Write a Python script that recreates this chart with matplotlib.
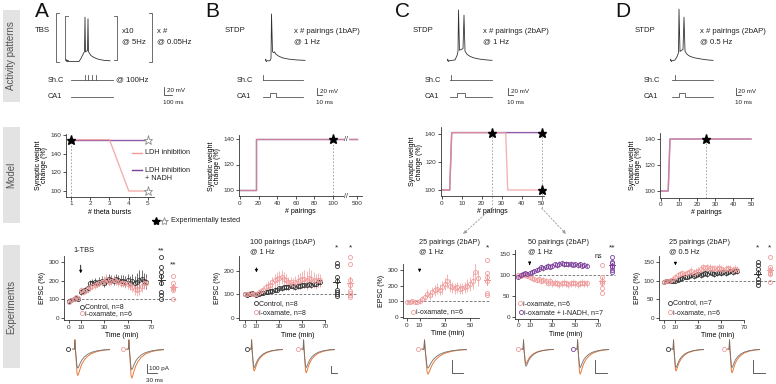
import numpy as np
import matplotlib
matplotlib.use("Agg")
import matplotlib.pyplot as plt
from matplotlib.patches import Rectangle

plt.rcParams['font.family'] = ['Liberation Sans', 'DejaVu Sans']
plt.rcParams['font.size'] = 5
plt.rcParams['axes.linewidth'] = 0.6
plt.rcParams['xtick.major.width'] = 0.6
plt.rcParams['ytick.major.width'] = 0.6
plt.rcParams['xtick.major.size'] = 2
plt.rcParams['ytick.major.size'] = 2
plt.rcParams['xtick.major.pad'] = 1.5
plt.rcParams['ytick.major.pad'] = 1.5
plt.rcParams['xtick.labelsize'] = 4.6
plt.rcParams['ytick.labelsize'] = 4.6
plt.rcParams['axes.labelsize'] = 5
plt.rcParams['axes.labelpad'] = 1.5
plt.rcParams['text.color'] = '#222222'
plt.rcParams['axes.edgecolor'] = '#333333'
plt.rcParams['xtick.color'] = '#333333'
plt.rcParams['ytick.color'] = '#333333'

W, H = 776, 384
PINK = '#f09a9a'
PURPLE = '#7b3f9a'
BLACK = '#333333'
ORANGE = '#e8793a'
TGRAY = '#707070'
DASH = '#9a9a9a'

# ---------------- model data ----------------
bursts = [1, 2, 3, 4, 5]
ldh_A = [155, 155, 155, 100, 100]
nadh_A = [155, 155, 155, 155, 155]

pair_B = [0, 17.5, 17.5, 500]
w_B = [100, 100, 140, 140]

pair_C = [0, 4, 5, 32, 33, 50]
ldh_C = [100, 100, 141, 141, 100, 100]
pair_C2 = [0, 4, 5, 50]
nadh_C = [100, 100, 141, 141]

pair_D = [0, 4, 5, 50]
w_D = [100, 100, 140, 140]

# ---------------- experiment data ----------------
tA = list(range(0, 68, 2))
ctl_A = [90, 95, 100, 105, 100, 140, 145, 150, 160, 185, 190, 195, 185, 195, 200, 190, 200,
         210, 205, 200, 210, 205, 200, 200, 195, 205, 190, 200, 185, 195, 205, 210, 200, 195]
err_ctl_A = [10, 10, 10, 10, 10, 15, 15, 15, 20, 20, 20, 20, 20, 25, 25, 25, 25,
             25, 25, 25, 25, 25, 30, 30, 30, 30, 35, 35, 40, 45, 50, 45, 40, 40]
oxa_A = [85, 95, 100, 110, 105, 150, 140, 145, 155, 165, 170, 175, 180, 190, 195, 200, 210,
         195, 200, 205, 200, 195, 190, 190, 185, 180, 175, 165, 155, 150, 155, 170, 185, 190]
err_oxa_A = [10, 10, 10, 10, 10, 15, 15, 15, 15, 20, 20, 20, 20, 20, 25, 25, 25,
             25, 25, 25, 25, 25, 25, 25, 25, 25, 25, 25, 30, 30, 30, 30, 30, 30]
pts_ctl_A = [326, 271, 245, 226, 190, 137, 121, 101]
pts_oxa_A = [225, 185, 165, 159, 150, 100]

tB = list(range(0, 68, 2))
ctl_B = [100, 95, 100, 105, 100, 95, 100, 105, 105, 110, 110, 115, 115, 120, 120, 125, 125,
         130, 130, 130, 135, 135, 130, 135, 135, 140, 140, 140, 145, 140, 145, 145, 150, 150]
err_ctl_B = [6, 6, 6, 6, 6, 6, 6, 8, 8, 8, 8, 8, 10, 10, 10, 10, 10,
             10, 10, 10, 10, 12, 12, 12, 12, 12, 12, 12, 15, 15, 15, 15, 15, 15]
oxa_B = [100, 100, 105, 100, 100, 100, 110, 115, 120, 130, 135, 140, 150, 160, 165, 170, 175,
         165, 160, 150, 150, 145, 150, 155, 160, 165, 165, 160, 170, 165, 160, 155, 160, 160]
err_oxa_B = [8, 8, 8, 8, 8, 8, 10, 12, 15, 18, 20, 22, 25, 28, 30, 30, 30,
             28, 25, 25, 25, 25, 28, 30, 32, 35, 38, 40, 40, 38, 35, 32, 30, 28]
pts_ctl_B = [232, 218, 175, 157, 120, 108, 100, 92]
pts_oxa_B = [260, 230, 160, 140, 112, 105, 97, 90]

tC1 = list(range(0, 58, 2))
oxa_C1 = [95, 95, 100, 95, 95, 100, 115, 130, 150, 140, 160, 170, 180, 175, 190,
          210, 230, 200, 190, 185, 190, 180, 185, 190, 200, 210, 230, 290, 250]
err_C1 = [15, 15, 15, 15, 15, 15, 20, 25, 30, 30, 30, 35, 35, 35, 40,
          40, 45, 40, 35, 35, 35, 35, 35, 35, 40, 45, 50, 60, 50]
pts_oxa_C1 = [364, 279, 257, 232, 151, 140]

tC2 = list(range(0, 62, 2))
oxa_C2 = [100, 98, 102, 100, 98, 95, 92, 90, 88, 90, 85, 88, 85, 82, 85, 80,
          82, 80, 78, 80, 82, 80, 78, 80, 82, 80, 78, 80, 82, 80, 80]
err_oxa_C2 = [5, 5, 5, 5, 5, 6, 6, 6, 6, 7, 7, 7, 8, 8, 8, 8,
              8, 8, 8, 8, 8, 8, 8, 8, 8, 8, 8, 8, 8, 8, 8]
nadh_C2 = [95, 100, 102, 105, 103, 105, 108, 110, 112, 115, 118, 116, 120, 122, 120, 122,
           125, 123, 126, 128, 125, 127, 125, 126, 124, 125, 123, 125, 122, 124, 122]
err_nadh_C2 = [4, 4, 4, 4, 4, 5, 5, 5, 5, 5, 6, 6, 6, 6, 6, 6,
               6, 6, 6, 6, 6, 6, 6, 6, 6, 6, 6, 6, 6, 6, 6]
pts_oxa_C2 = [124, 95, 85, 80, 70, 58]
pts_nadh_C2 = [143, 131, 128, 122, 118, 112, 108]

tD = list(range(0, 66, 2))
ctl_D = [95, 98, 100, 100, 98, 100, 102, 105, 108, 110, 110, 112, 115, 112, 115, 118, 115,
         118, 120, 118, 122, 120, 118, 120, 122, 120, 123, 120, 122, 125, 122, 125, 125]
err_ctl_D = [5, 5, 5, 5, 5, 5, 6, 6, 6, 7, 7, 7, 7, 7, 8, 8, 8,
             8, 8, 8, 8, 8, 8, 8, 8, 8, 8, 8, 8, 8, 8, 8, 8]
oxa_D = [95, 100, 100, 102, 105, 110, 115, 118, 120, 118, 120, 122, 125, 120, 122, 125, 130,
         135, 132, 135, 133, 130, 132, 130, 133, 130, 128, 130, 132, 130, 128, 130, 128]
err_oxa_D = [5, 5, 5, 5, 6, 7, 8, 8, 8, 8, 9, 9, 10, 10, 10, 10, 10,
             10, 10, 10, 10, 10, 10, 10, 10, 10, 10, 10, 10, 10, 10, 10, 10]
pts_ctl_D = [150, 140, 130, 120, 105, 97, 88]
pts_oxa_D = [163, 135, 128, 120, 118, 97]

# ---------------- waveform sketches ----------------
tbs_t = [0, 0.7, 1.4, 2, 13, 15, 17, 18.5, 19, 19.5, 20.5, 21.5, 22, 22.5, 23.5, 25, 28, 32, 38, 44]
tbs_v = [-70, -65, -70, -70, -70, -62, -52, -45, 40, -46, -44, -43, 36, -45, -50, -55, -60, -64, -67, -68]
bap1_t = [0, 0.7, 1.4, 2, 5, 6, 6.5, 7.5, 8.5, 9.5, 11, 14, 18, 24, 32, 40]
bap1_v = [-68, -64, -70, -68, -68, -62, 48, -45, -48, -46, -52, -57, -61, -64, -66, -67]
bap2_t = [0, 0.7, 1.4, 2, 8, 10, 11, 11.5, 12.5, 14, 16, 17, 18, 20, 23, 27, 33, 40, 45]
bap2_v = [-68, -64, -70, -68, -66, -55, -45, 58, -42, -40, -38, 45, -44, -52, -57, -61, -64, -66, -67]
bap2d_t = [0, 0.7, 1.4, 2, 5, 7, 8.5, 9, 10, 11.5, 13, 14, 15, 17, 20, 25, 32, 38, 43]
bap2d_v = [-68, -64, -70, -68, -66, -58, -48, 60, -45, -42, -40, 40, -44, -52, -57, -61, -64, -66, -67]
epsc_t = [0, 2.0, 2.6, 3.2, 4.2, 5.2, 6.2, 7.5, 9, 11, 14, 18, 23, 30, 38, 46]
epsc_shape = [0, 0, 0.35, 0, -0.45, -0.9, -1.0, -0.9, -0.75, -0.58, -0.42, -0.28, -0.17, -0.09, -0.04, -0.02]

fig = plt.figure(figsize=(W / 100, H / 100), dpi=100)
bg = fig.add_axes([0, 0, 1, 1], zorder=-1)
bg.set_xlim(0, W)
bg.set_ylim(H, 0)
bg.axis('off')


def place(xlim, ylim, xmap, ymap):
    dx0, px0, dx1, px1 = xmap
    dy0, py0, dy1, py1 = ymap
    sx = (px1 - px0) / (dx1 - dx0)
    sy = (py1 - py0) / (dy1 - dy0)
    left = px0 + (xlim[0] - dx0) * sx
    right = px0 + (xlim[1] - dx0) * sx
    bottom = py0 + (ylim[0] - dy0) * sy
    top = py0 + (ylim[1] - dy0) * sy
    ax = fig.add_axes([left / W, 1 - bottom / H, (right - left) / W, (bottom - top) / H])
    ax.set_xlim(*xlim)
    ax.set_ylim(*ylim)
    ax.patch.set_alpha(0)
    for s in ('top', 'right'):
        ax.spines[s].set_visible(False)
    return ax


def to_px(ax, x, y):
    dx, dy = ax.transData.transform((x, y))
    return dx, H - dy


def T(x, y, s, size=5, **kw):
    kw.setdefault('va', 'center')
    bg.text(x, y, s, fontsize=size, **kw)


def course(ax, t, y, e, color):
    ax.errorbar(t, y, yerr=e, fmt='o', ms=2.9, mfc='none', mec=color, mew=0.6,
                ecolor=color, elinewidth=0.5, capsize=0, zorder=3)


def column(ax, x, vals, color, half=3):
    vals = np.asarray(vals, float)
    ax.plot(np.full(len(vals), x), vals, 'o', ms=2.9, mfc='none', mec=color, mew=0.6,
            clip_on=False, zorder=3)
    m = vals.mean()
    se = vals.std(ddof=1) / np.sqrt(len(vals))
    ax.plot([x - half, x + half], [m, m], color=color, lw=0.7, clip_on=False)
    ax.plot([x, x], [m - se, m + se], color=color, lw=0.7, clip_on=False)


def star(ax, x, y, filled=True):
    if filled:
        ax.plot(x, y, marker='*', ms=6.5, color='k', clip_on=False, zorder=5)
    else:
        ax.plot(x, y, marker='*', ms=6.5, mfc='white', mec='#8a8a8a', mew=0.6, clip_on=False, zorder=5)


def down_arrow(ax, x, tip, tail):
    ax.annotate('', xy=(x, tip), xytext=(x, tail),
                arrowprops=dict(arrowstyle='-|>', lw=0.6, color='k', mutation_scale=4))


def key(x, y, color, label):
    bg.plot(x, y, 'o', ms=2.9, mfc='none', mec=color, mew=0.6)
    T(x + 3, y, label, 5)


def spike(x0, x1, t, v):
    ax = fig.add_axes([x0 / W, 1 - 64 / H, (x1 - x0) / W, (64 - 7.5) / H])
    ax.axis('off')
    ax.set_xlim(0, x1 - x0)
    ax.set_ylim(-76, 64)
    ax.plot(t, v, color=BLACK, lw=0.6)


def epsc_pair(x0, x1, amp_pre, amp_post, dot_x, dot_color):
    ax = fig.add_axes([x0 / W, 1 - 384 / H, (x1 - x0) / W, (384 - 338) / H])
    ax.axis('off')
    ax.set_xlim(-1, 46)
    ax.set_ylim(-1.32, 0.42)
    s = np.array(epsc_shape)
    for amp, c, lw in ((amp_post, ORANGE, 0.7), (amp_pre, TGRAY, 0.6)):
        ax.plot(epsc_t, np.where(s < 0, s * amp, s), color=c, lw=lw)
    bg.plot(dot_x, 349.3, 'o', ms=2.9, mfc='none', mec=dot_color, mew=0.6)


def scalebar(x, y_top, y_bot, x_end, top_label=None, bot_label=None, size=4.5):
    bg.plot([x, x, x_end], [y_top, y_bot, y_bot], color='#444', lw=0.6)
    if top_label:
        T(x + 2.5, (y_top + y_bot) / 2, top_label, size)
    if bot_label:
        T(x - 1, y_bot + 7, bot_label, size)


def stim(xl, x0, x1, ticks, pulse):
    T(xl, 80, 'Sh.C', 5.3)
    bg.plot([x0, x1], [80, 80], color='#555', lw=0.6)
    for xt in ticks:
        bg.plot([xt, xt], [80, 74.5], color='#555', lw=0.6)
    T(xl, 96.7, 'CA1', 5.3)
    if pulse:
        p0, p1 = pulse
        bg.plot([x0, p0, p0, p1, p1, x1], [96.7, 96.7, 92.5, 92.5, 96.7, 96.7], color='#555', lw=0.6)
    else:
        bg.plot([x0, x1], [96.7, 96.7], color='#555', lw=0.6)


# ---------------- side labels and panel letters ----------------
for y0, y1, lab in [(10, 102, 'Activity patterns'), (127, 223, 'Model'), (245, 368, 'Experiments')]:
    bg.add_patch(Rectangle((3, y0), 17, y1 - y0, color='#e3e3e3', lw=0))
    bg.text(11.5, (y0 + y1) / 2, lab, rotation=90, ha='center', va='center', fontsize=7, color='#555555')
for x, lab in [(35, 'A'), (205, 'B'), (395, 'C'), (615, 'D')]:
    bg.text(x, 2, lab, fontsize=15, va='top', color='#111111')

# ---------------- activity patterns ----------------
T(35, 30.5, 'TBS', 5.6)
bgc = '#555555'
for xb, y0, y1, d in [(56, 13, 62, 3), (65, 16, 60, 3), (117, 16, 60, -3), (152, 13, 62, -3)]:
    bg.plot([xb + d, xb, xb, xb + d], [y0, y0, y1, y1], color=bgc, lw=0.6)
spike(66, 112, tbs_t, tbs_v)
T(122, 31.7, 'x10', 5.6)
T(122, 41.7, '@ 5Hz', 5.6)
T(157, 31.7, 'x #', 5.6)
T(157, 41.7, '@ 0.05Hz', 5.6)
stim(48, 70.7, 113.3, [85, 88.3, 91.7, 95.7], None)
T(115.5, 80, '@ 100Hz', 5.6)
scalebar(164.3, 87, 95, 171.7, '20 mV', '100 ms')

T(225, 30.5, 'STDP', 5.6)
spike(265, 307, bap1_t, bap1_v)
T(294, 31.7, 'x # pairings (1bAP)', 5.6)
T(294, 41.7, '@ 1 Hz', 5.6)
stim(236.7, 262.7, 303.3, [263.3], (270, 276))
scalebar(317.3, 88, 95, 322, '20 mV', '10 ms')

T(412.7, 30.5, 'STDP', 5.6)
spike(447, 493, bap2_t, bap2_v)
T(483.3, 31.7, 'x # pairings (2bAP)', 5.6)
T(483.3, 41.7, '@ 1 Hz', 5.6)
stim(425, 450, 491.7, [451], (456.7, 465))
scalebar(508.3, 88, 95, 513, '20 mV', '10 ms')

T(634.3, 30.5, 'STDP', 5.6)
spike(670, 714, bap2d_t, bap2d_v)
T(700, 31.7, 'x # pairings (2bAP)', 5.6)
T(700, 41.7, '@ 0.5 Hz', 5.6)
stim(643.3, 671.7, 713.3, [675], (679, 685))
scalebar(736, 88, 95, 740.7, '20 mV', '10 ms')

# ---------------- model row ----------------
ylab_m = 'Synaptic weight\nchange (%)'

mA = place((0.75, 5.3), (94, 161), (1, 71, 5, 148), (100, 191, 160, 135))
mA.plot(bursts, nadh_A, color=PURPLE, lw=1.0, alpha=0.85)
mA.plot(bursts, ldh_A, color=PINK, lw=1.0, alpha=0.8)
mA.plot([1, 1], [94, 155], ls=(0, (2, 2)), color=DASH, lw=0.6)
star(mA, 1, 155)
star(mA, 5, 155, False)
star(mA, 5, 100, False)
mA.set_xticks(bursts)
mA.set_yticks([100, 120, 140, 160])
mA.set_xlabel('# theta bursts')
mA.set_ylabel(ylab_m, linespacing=0.95)
bg.plot([131.7, 141.7], [152.5, 152.5], color=PINK, lw=1.0)
T(145, 152.5, 'LDH inhibition', 5.2)
bg.plot([131.7, 141.7], [170, 170], color=PURPLE, lw=1.0)
T(145, 170, 'LDH inhibition', 5.2)
T(145, 178.5, '+ NADH', 5.2)
bg.plot(156, 221, marker='*', ms=6, color='k')
bg.plot(163.5, 221, marker='*', ms=6, mfc='white', mec='#8a8a8a', mew=0.6)
T(171, 221, 'Experimentally tested', 5.2)


def brk(x):
    x = np.asarray(x, float)
    return np.where(x > 100, 100 + (x - 100) * 26 / 400, x)


mB = place((-1, 131), (95, 143), (0, 240, 100, 333), (100, 190, 140, 139))
mB.plot(brk(pair_B), w_B, color=PURPLE, lw=1.0, alpha=0.85)
mB.plot(brk(pair_B), w_B, color=PINK, lw=1.0, alpha=0.6)
mB.plot([100, 100], [95, 140], ls=(0, (2, 2)), color=DASH, lw=0.6)
star(mB, 100, 140)
for yb in (140, 95):
    mB.text(114.5, yb, '//', ha='center', va='center', fontsize=5, clip_on=False,
            bbox=dict(fc='white', ec='none', pad=0.2))
mB.set_xticks(brk([0, 20, 40, 60, 80, 100, 500]))
mB.set_xticklabels(['0', '20', '40', '60', '80', '100', '500'])
mB.set_yticks([100, 120, 140])
mB.set_xlabel('# pairings')
mB.set_ylabel(ylab_m, linespacing=0.95)

mC = place((-0.5, 51), (95.7, 145), (0, 441.7, 50, 541.7), (100, 190, 140, 134))
mC.plot(pair_C2, nadh_C, color=PURPLE, lw=1.0, alpha=0.85)
mC.plot(pair_C, ldh_C, color=PINK, lw=1.0, alpha=0.75)
for xs in (25, 50):
    mC.plot([xs, xs], [87, 141], ls=(0, (2, 2)), color=DASH, lw=0.6, clip_on=False)
star(mC, 25, 141)
star(mC, 50, 141)
star(mC, 50, 100)
mC.set_xticks([0, 10, 20, 30, 40, 50])
mC.set_yticks([100, 120, 140])
mC.set_xlabel('# pairings')
mC.set_ylabel(ylab_m, linespacing=0.95)

mD = place((-0.5, 51), (95, 145), (0, 661, 50, 751), (100, 191, 140, 139))
mD.plot(pair_D, w_D, color=PURPLE, lw=1.0, alpha=0.85)
mD.plot(pair_D, w_D, color=PINK, lw=1.0, alpha=0.6)
mD.plot([25, 25], [95, 140], ls=(0, (2, 2)), color=DASH, lw=0.6)
star(mD, 25, 140)
mD.set_xticks([0, 10, 20, 30, 40, 50])
mD.set_yticks([100, 120, 140])
mD.set_xlabel('# pairings')
mD.set_ylabel(ylab_m, linespacing=0.95)

# dashed arrows from model C to the two experiments
for xs, target in ((25, (463, 234)), (50, (566, 234))):
    start = to_px(mC, xs, 87)
    bg.annotate('', xy=target, xytext=start,
                arrowprops=dict(arrowstyle='-|>', lw=0.6, color=DASH, ls=(0, (2, 2)),
                                mutation_scale=5, shrinkA=0, shrinkB=0))

# ---------------- experiments row ----------------


def exp_axes(ax, xt, yt, xend, dash_to, ylabel=True):
    ax.spines['bottom'].set_bounds(ax.get_xlim()[0], xend)
    ax.plot([0, dash_to], [100, 100], ls=(0, (3, 2)), color='#666666', lw=0.6, clip_on=False)
    ax.set_xticks(xt)
    ax.set_yticks(yt)
    ax.set_xlabel('Time (min)')
    if ylabel:
        ax.set_ylabel('EPSC (%)')


eA = place((-4.3, 95), (-10, 330), (0, 69, 70, 151), (0, 318, 300, 262))
exp_axes(eA, [0, 10, 30, 50, 70], [0, 100, 200, 300], 70, 92)
course(eA, tA, ctl_A, err_ctl_A, BLACK)
course(eA, tA, oxa_A, err_oxa_A, PINK)
column(eA, 78.6, pts_ctl_A, BLACK)
column(eA, 88.8, pts_oxa_A, PINK)
down_arrow(eA, 10, 225, 298)
eA.text(78.6, 362, '**', ha='center', va='center', fontsize=6, clip_on=False)
eA.text(88.8, 284, '**', ha='center', va='center', fontsize=6, clip_on=False)
T(73, 251, '1-TBS', 5.3)
key(81.7, 306.7, BLACK, 'Control, n=8')
key(81.7, 313.2, PINK, 'i-oxamate, n=6')

eB = place((-5.3, 97), (-8, 262), (0, 245, 70, 325), (0, 317.7, 200, 270.7))
exp_axes(eB, [0, 10, 30, 50, 70], [0, 100, 200], 70, 97.7)
course(eB, tB, ctl_B, err_ctl_B, BLACK)
course(eB, tB, oxa_B, err_oxa_B, PINK)
column(eB, 80.2, pts_ctl_B, BLACK)
column(eB, 91.9, pts_oxa_B, PINK)
down_arrow(eB, 10, 181, 224)
eB.text(80.2, 297, '*', ha='center', va='center', fontsize=6, clip_on=False)
eB.text(91.9, 297, '*', ha='center', va='center', fontsize=6, clip_on=False)
T(250, 242, '100 pairings (1bAP)', 5.3)
T(250, 251.3, '@ 1 Hz', 5.3)
key(255.7, 303.3, BLACK, 'Control, n=8')
key(256.2, 312.3, PINK, 'i-oxamate, n=8')

eC1 = place((-3.2, 68), (-6, 340), (0, 407, 50, 470), (0, 317, 300, 270))
exp_axes(eC1, [0, 10, 30, 50], [0, 100, 200, 300], 57, 66)
course(eC1, tC1, oxa_C1, err_C1, PINK)
column(eC1, 63.5, pts_oxa_C1, PINK, half=2.5)
down_arrow(eC1, 10, 268, 319)
eC1.text(63.5, 440, '*', ha='center', va='center', fontsize=6, clip_on=False)
T(419.3, 242, '25 pairings (2bAP)', 5.3)
T(419.3, 251.3, '@ 1 Hz', 5.3)
key(412.7, 311.7, PINK, 'i-oxamate, n=6')

eC2 = place((-3, 86), (-3, 160), (0, 518.3, 70, 598), (0, 317.3, 100, 275))
exp_axes(eC2, [0, 10, 30, 50, 70], [0, 50, 100, 150], 70, 85, ylabel=False)
course(eC2, tC2, oxa_C2, err_oxa_C2, PINK)
course(eC2, tC2, nadh_C2, err_nadh_C2, PURPLE)
column(eC2, 73.5, pts_oxa_C2, PINK, half=2.5)
column(eC2, 82, pts_nadh_C2, PURPLE, half=2.5)
down_arrow(eC2, 10, 117, 132)
eC2.text(70, 143, 'ns', ha='center', va='center', fontsize=5, clip_on=False)
eC2.text(82, 164, '**', ha='center', va='center', fontsize=6, clip_on=False)
T(528.3, 242, '50 pairings (2bAP)', 5.3)
T(528.3, 251.3, '@ 1 Hz', 5.3)
key(520, 303.3, PINK, 'i-oxamate, n=6')
key(521, 312.3, PURPLE, 'i-oxamate + i-NADH, n=7')

eD = place((-4.4, 98), (-5, 165), (0, 664, 70, 744), (0, 318.3, 150, 261.7))
exp_axes(eD, [0, 10, 30, 50, 70], [0, 50, 100, 150], 70, 97)
course(eD, tD, ctl_D, err_ctl_D, BLACK)
course(eD, tD, oxa_D, err_oxa_D, PINK)
column(eD, 82, pts_ctl_D, BLACK)
column(eD, 92.7, pts_oxa_D, PINK)
down_arrow(eD, 10, 133, 156)
eD.text(82, 187, '*', ha='center', va='center', fontsize=6, clip_on=False)
eD.text(92.7, 187, '*', ha='center', va='center', fontsize=6, clip_on=False)
T(669.3, 242, '25 pairings (2bAP)', 5.3)
T(669.3, 251.3, '@ 0.5 Hz', 5.3)
key(670, 302.7, BLACK, 'Control, n=7')
key(670, 312.3, PINK, 'i-oxamate, n=6')

# ---------------- example EPSC traces ----------------
epsc_pair(72, 110, 0.72, 1.0, 68.3, BLACK)
epsc_pair(126, 164, 0.78, 1.1, 123.3, PINK)
scalebar(146.7, 364, 373, 157, '100 pA', '30 ms', 4.5)

epsc_pair(249, 283, 0.7, 0.83, 246.7, BLACK)
epsc_pair(301, 335, 0.7, 0.9, 298.3, PINK)
scalebar(331, 366, 373, 337)

epsc_pair(421, 467, 0.72, 0.95, 418.3, PINK)
scalebar(451.7, 360, 372.7, 463.3)

epsc_pair(521, 554, 0.65, 0.55, 518.3, PINK)
epsc_pair(575, 609, 0.7, 0.95, 572.7, PURPLE)
scalebar(595, 360, 372.7, 606.7)

epsc_pair(671, 704, 0.7, 0.83, 668.3, BLACK)
epsc_pair(727, 760, 0.7, 0.9, 724, PINK)
scalebar(753.3, 360, 372.7, 765)

fig.savefig('out.png', dpi=100)
